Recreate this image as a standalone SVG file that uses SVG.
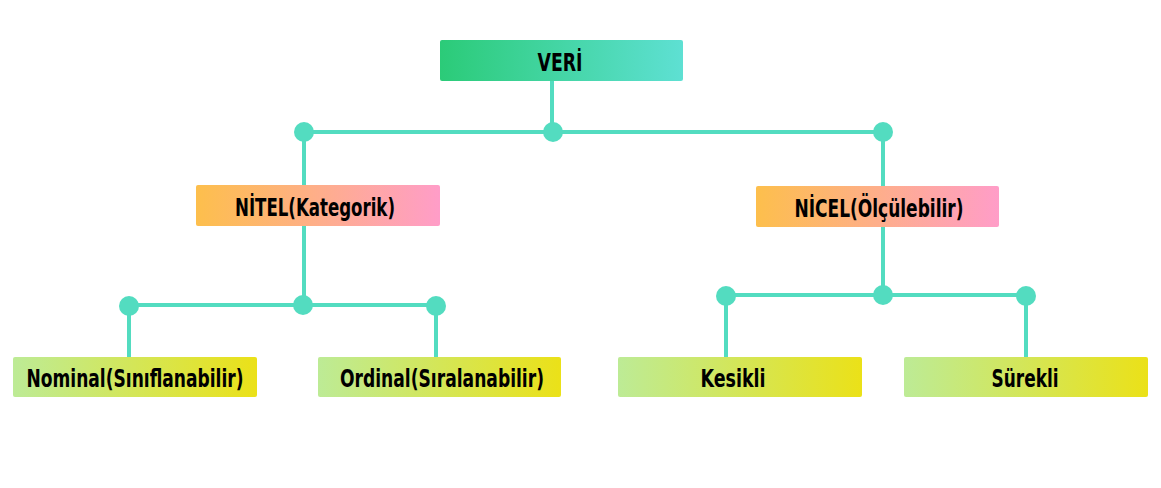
<svg xmlns="http://www.w3.org/2000/svg" width="1161" height="488" viewBox="0 0 1161 488">
<defs>
<linearGradient id="gTop" x1="0" y1="0" x2="1" y2="0"><stop offset="0" stop-color="#2BCB78"/><stop offset="1" stop-color="#5EE0D3"/></linearGradient>
<linearGradient id="gMid" x1="0" y1="0" x2="1" y2="0"><stop offset="0" stop-color="#FDBF4C"/><stop offset="1" stop-color="#FF9DC8"/></linearGradient>
<linearGradient id="gLow" x1="0" y1="0" x2="1" y2="0"><stop offset="0" stop-color="#BDEB96"/><stop offset="1" stop-color="#EBE118"/></linearGradient>
<style>
.ln{stroke:#53DCC0;stroke-width:4;fill:none}
.dot{fill:#53DCC0}
.lbl{font-family:"DejaVu Sans Condensed","DejaVu Sans",sans-serif;font-stretch:condensed;font-weight:bold;font-size:24px;fill:#000;text-anchor:middle}
</style>
</defs>
<rect width="1161" height="488" fill="#fff"/>
<g id="connectors">
<path class="ln" d="M552 81V132M304 132H883M304 132V185M304 226V305M129 305H436M129 305V357M436 305V357M883 132V186M883 227V295M726 295H1026M726 295V357M1026 295V357"/>
<circle class="dot" cx="304" cy="132" r="10"/>
<circle class="dot" cx="553" cy="132" r="10"/>
<circle class="dot" cx="883" cy="132" r="10"/>
<circle class="dot" cx="129" cy="306" r="10"/>
<circle class="dot" cx="303" cy="305" r="10"/>
<circle class="dot" cx="436" cy="306" r="10"/>
<circle class="dot" cx="726" cy="296" r="10"/>
<circle class="dot" cx="883" cy="295" r="10"/>
<circle class="dot" cx="1026" cy="296" r="10"/>
</g>
<g id="veri"><rect x="440" y="40" width="243" height="41" rx="2" fill="url(#gTop)"/><text class="lbl" x="560" y="71" textLength="45" lengthAdjust="spacingAndGlyphs">VERİ</text></g>
<g id="nitel"><rect x="196" y="185" width="244" height="41" rx="2" fill="url(#gMid)"/><text class="lbl" x="315" y="216" textLength="160" lengthAdjust="spacingAndGlyphs">NİTEL(Kategorik)</text></g>
<g id="nicel"><rect x="756" y="186" width="243" height="41" rx="2" fill="url(#gMid)"/><text class="lbl" x="879" y="217" textLength="169" lengthAdjust="spacingAndGlyphs">NİCEL(Ölçülebilir)</text></g>
<g id="nominal"><rect x="13" y="357" width="244" height="40" rx="2" fill="url(#gLow)"/><text class="lbl" x="135" y="387" textLength="217" lengthAdjust="spacingAndGlyphs">Nominal(Sınıflanabilir)</text></g>
<g id="ordinal"><rect x="318" y="357" width="243" height="40" rx="2" fill="url(#gLow)"/><text class="lbl" x="442" y="387" textLength="204" lengthAdjust="spacingAndGlyphs">Ordinal(Sıralanabilir)</text></g>
<g id="kesikli"><rect x="618" y="357" width="244" height="40" rx="2" fill="url(#gLow)"/><text class="lbl" x="733" y="387" textLength="65" lengthAdjust="spacingAndGlyphs">Kesikli</text></g>
<g id="surekli"><rect x="904" y="357" width="244" height="40" rx="2" fill="url(#gLow)"/><text class="lbl" x="1025" y="387" textLength="67" lengthAdjust="spacingAndGlyphs">Sürekli</text></g>
</svg>
